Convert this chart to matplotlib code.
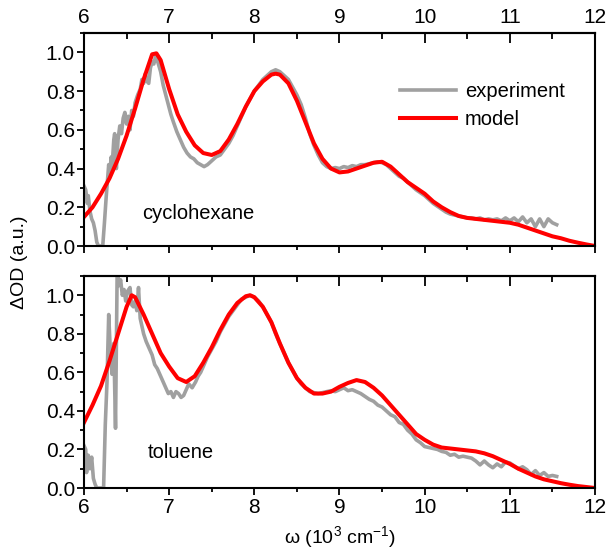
import numpy as np
import matplotlib
matplotlib.use("Agg")
import matplotlib.pyplot as plt
from matplotlib.ticker import FixedLocator

plt.rcParams['font.family'] = ['Liberation Sans', 'DejaVu Sans']
plt.rcParams['mathtext.fontset'] = 'custom'
plt.rcParams['mathtext.rm'] = 'Liberation Sans'
plt.rcParams['mathtext.it'] = 'Liberation Sans:italic'

# cyclohexane, model (smooth)
cyc_model_w = [6.0, 6.1, 6.2, 6.3, 6.4, 6.5, 6.6, 6.7, 6.8, 6.85, 6.9, 7.0, 7.1, 7.2,
               7.3, 7.4, 7.5, 7.6, 7.7, 7.8, 7.9, 8.0, 8.1, 8.2, 8.25, 8.3, 8.4, 8.5,
               8.6, 8.7, 8.8, 8.9, 9.0, 9.1, 9.2, 9.3, 9.4, 9.5, 9.6, 9.7, 9.8, 9.9,
               10.0, 10.1, 10.2, 10.3, 10.4, 10.5, 10.6, 10.7, 10.8, 10.9, 11.0, 11.1,
               11.2, 11.3, 11.4, 11.5, 11.6, 11.7, 11.8, 11.9, 12.0]
cyc_model = [0.15, 0.20, 0.27, 0.35, 0.45, 0.57, 0.71, 0.86, 0.99, 0.995, 0.96, 0.81, 0.68, 0.59,
             0.52, 0.48, 0.47, 0.49, 0.55, 0.63, 0.72, 0.80, 0.85, 0.885, 0.89, 0.885, 0.84, 0.75,
             0.64, 0.53, 0.45, 0.40, 0.38, 0.385, 0.40, 0.415, 0.43, 0.435, 0.41, 0.37, 0.33, 0.30,
             0.27, 0.23, 0.20, 0.175, 0.155, 0.145, 0.14, 0.135, 0.13, 0.125, 0.12, 0.11,
             0.095, 0.08, 0.065, 0.05, 0.04, 0.027, 0.017, 0.008, 0.0]

# cyclohexane, experiment
cyc_exp_w = [6.00, 6.02, 6.04, 6.05, 6.07, 6.09, 6.11, 6.13, 6.15, 6.17, 6.20, 6.22, 6.24, 6.26,
             6.28, 6.29, 6.30, 6.32, 6.33, 6.35, 6.36, 6.38, 6.40, 6.42, 6.44, 6.46, 6.48, 6.50,
             6.52, 6.54, 6.56, 6.58, 6.60, 6.63, 6.66, 6.68, 6.70, 6.72, 6.74, 6.76, 6.78, 6.80,
             6.82, 6.84, 6.86, 6.88, 6.90, 6.93, 6.96, 6.99, 7.02, 7.05, 7.09, 7.13, 7.17, 7.21,
             7.25, 7.29, 7.33, 7.37, 7.41, 7.45, 7.50, 7.55, 7.60, 7.65, 7.70, 7.75, 7.80, 7.85,
             7.90, 7.95, 8.00, 8.05, 8.10, 8.15, 8.20, 8.25, 8.30, 8.35, 8.40, 8.45, 8.50, 8.55,
             8.60, 8.65, 8.70, 8.75, 8.80, 8.85, 8.90, 8.95, 9.00, 9.05, 9.10, 9.15, 9.20, 9.25,
             9.30, 9.35, 9.40, 9.45, 9.50, 9.55, 9.60, 9.65, 9.70, 9.75, 9.80, 9.85, 9.90, 9.95,
             10.00, 10.05, 10.10, 10.15, 10.20, 10.25, 10.30, 10.35, 10.40, 10.45, 10.50, 10.55,
             10.60, 10.65, 10.70, 10.75, 10.80, 10.85, 10.90, 10.95, 11.00, 11.05, 11.10, 11.15,
             11.20, 11.25, 11.30, 11.35, 11.40, 11.45, 11.50, 11.55]
cyc_exp = [0.31, 0.29, 0.22, 0.26, 0.18, 0.14, 0.12, 0.08, 0.02, 0.0, 0.0, 0.0, 0.12, 0.25,
           0.36, 0.42, 0.37, 0.46, 0.41, 0.55, 0.58, 0.40, 0.55, 0.62, 0.58, 0.66, 0.69, 0.63,
           0.67, 0.60, 0.70, 0.67, 0.74, 0.78, 0.81, 0.86, 0.84, 0.89, 0.85, 0.84, 0.92, 0.95,
           0.94, 0.98, 0.96, 0.93, 0.90, 0.83, 0.78, 0.73, 0.68, 0.64, 0.59, 0.55, 0.51, 0.48,
           0.46, 0.45, 0.43, 0.42, 0.41, 0.42, 0.44, 0.46, 0.47, 0.50, 0.53, 0.57, 0.62, 0.67,
           0.72, 0.76, 0.80, 0.83, 0.86, 0.88, 0.90, 0.91, 0.90, 0.88, 0.86, 0.82, 0.78, 0.73,
           0.66, 0.58, 0.52, 0.47, 0.43, 0.41, 0.40, 0.405, 0.40, 0.41, 0.405, 0.415, 0.41, 0.42,
           0.42, 0.425, 0.43, 0.435, 0.43, 0.42, 0.40, 0.38, 0.36, 0.35, 0.33, 0.31, 0.29, 0.275,
           0.26, 0.24, 0.22, 0.205, 0.19, 0.175, 0.165, 0.16, 0.155, 0.15, 0.145, 0.145,
           0.14, 0.145, 0.135, 0.14, 0.135, 0.14, 0.13, 0.145, 0.13, 0.145, 0.125, 0.15,
           0.12, 0.14, 0.10, 0.14, 0.10, 0.14, 0.12, 0.11]

# toluene, model (smooth)
tol_model_w = [6.0, 6.1, 6.2, 6.3, 6.4, 6.5, 6.56, 6.6, 6.7, 6.8, 6.9, 7.0, 7.1, 7.2, 7.3,
               7.4, 7.5, 7.6, 7.7, 7.8, 7.9, 7.95, 8.0, 8.1, 8.2, 8.3, 8.4, 8.5, 8.6, 8.7,
               8.8, 8.9, 9.0, 9.1, 9.2, 9.3, 9.4, 9.5, 9.6, 9.7, 9.8, 9.9, 10.0, 10.1, 10.2,
               10.3, 10.4, 10.5, 10.6, 10.7, 10.8, 10.9, 11.0, 11.1, 11.2, 11.3, 11.4, 11.5,
               11.6, 11.7, 11.8, 11.9, 12.0]
tol_model = [0.34, 0.43, 0.53, 0.66, 0.80, 0.94, 1.00, 0.99, 0.90, 0.80, 0.70, 0.63, 0.57, 0.55, 0.58,
             0.65, 0.73, 0.82, 0.90, 0.96, 0.995, 1.00, 0.99, 0.94, 0.86, 0.75, 0.65, 0.57, 0.52, 0.49,
             0.49, 0.50, 0.525, 0.545, 0.56, 0.55, 0.52, 0.48, 0.43, 0.38, 0.33, 0.28, 0.25, 0.225, 0.21,
             0.205, 0.20, 0.195, 0.19, 0.18, 0.165, 0.145, 0.125, 0.10, 0.08, 0.06, 0.045, 0.035,
             0.025, 0.017, 0.01, 0.005, 0.0]

# toluene, experiment
tol_exp_w = [6.00, 6.02, 6.03, 6.05, 6.07, 6.09, 6.11, 6.13, 6.15, 6.20, 6.23, 6.25, 6.27, 6.29,
             6.31, 6.33, 6.35, 6.37, 6.39, 6.41, 6.43, 6.45, 6.47, 6.49, 6.51, 6.54, 6.56, 6.58,
             6.60, 6.62, 6.64, 6.66, 6.68, 6.70, 6.73, 6.76, 6.80, 6.83, 6.86, 6.90, 6.93, 6.96,
             6.99, 7.02, 7.05, 7.08, 7.11, 7.14, 7.17, 7.20, 7.23, 7.27, 7.31, 7.34, 7.37, 7.41,
             7.45, 7.50, 7.55, 7.60, 7.65, 7.70, 7.75, 7.80, 7.85, 7.90, 7.95, 8.00, 8.05, 8.10,
             8.15, 8.20, 8.25, 8.30, 8.35, 8.40, 8.45, 8.50, 8.55, 8.60, 8.65, 8.70, 8.75, 8.80,
             8.85, 8.90, 8.95, 9.00, 9.05, 9.10, 9.15, 9.20, 9.25, 9.30, 9.35, 9.40, 9.45, 9.50,
             9.55, 9.60, 9.65, 9.70, 9.75, 9.80, 9.85, 9.90, 9.95, 10.00, 10.05, 10.10, 10.15,
             10.20, 10.25, 10.30, 10.35, 10.40, 10.45, 10.50, 10.55, 10.60, 10.65, 10.70, 10.75,
             10.80, 10.85, 10.90, 10.95, 11.00, 11.05, 11.10, 11.15, 11.20, 11.25, 11.30, 11.35,
             11.40, 11.45, 11.50, 11.55]
tol_exp = [0.22, 0.20, 0.08, 0.17, 0.10, 0.16, 0.05, 0.02, 0.0, 0.0, 0.0, 0.33, 0.55, 0.90,
           0.70, 0.59, 0.75, 0.31, 1.15, 1.05, 1.08, 1.00, 1.03, 0.97, 1.02, 1.04, 0.95, 0.94,
           0.97, 0.92, 1.04, 0.88, 0.84, 0.80, 0.76, 0.73, 0.69, 0.64, 0.62, 0.58, 0.55, 0.52,
           0.49, 0.50, 0.47, 0.50, 0.49, 0.47, 0.48, 0.51, 0.54, 0.52, 0.55, 0.58, 0.60, 0.64,
           0.68, 0.72, 0.76, 0.81, 0.85, 0.89, 0.92, 0.95, 0.98, 0.99, 1.00, 0.99, 0.97, 0.94,
           0.90, 0.86, 0.80, 0.75, 0.70, 0.65, 0.61, 0.57, 0.54, 0.52, 0.50, 0.495, 0.49, 0.495,
           0.50, 0.505, 0.50, 0.51, 0.52, 0.505, 0.51, 0.50, 0.49, 0.475, 0.46, 0.45, 0.43, 0.42,
           0.40, 0.38, 0.37, 0.34, 0.33, 0.30, 0.28, 0.25, 0.235, 0.215, 0.21, 0.205, 0.20,
           0.19, 0.185, 0.17, 0.175, 0.16, 0.165, 0.16, 0.155, 0.14, 0.12, 0.14, 0.12,
           0.105, 0.125, 0.11, 0.135, 0.13, 0.115, 0.10, 0.11, 0.095, 0.07, 0.09, 0.065,
           0.08, 0.06, 0.065, 0.06]

x_major = [6, 7, 8, 9, 10, 11, 12]
x_minor = [6.5, 7.5, 8.5, 9.5, 10.5, 11.5]
y_major = [0.0, 0.2, 0.4, 0.6, 0.8, 1.0]
y_minor = [0.1, 0.3, 0.5, 0.7, 0.9, 1.1]

GRAY = '#a0a0a0'
RED = '#ff0000'

fig = plt.figure(figsize=(6.09, 5.49), dpi=100)
ax1 = fig.add_axes([84/609, 1-246/549, 511/609, 213/549])
ax2 = fig.add_axes([84/609, 1-488/549, 511/609, 212/549])


def style(ax, labels_top):
    ax.set_xlim(6, 12)
    ax.set_ylim(0, 1.1)
    ax.xaxis.set_major_locator(FixedLocator(x_major))
    ax.xaxis.set_minor_locator(FixedLocator(x_minor))
    ax.yaxis.set_major_locator(FixedLocator(y_major))
    ax.yaxis.set_minor_locator(FixedLocator(y_minor))
    ax.yaxis.set_major_formatter(lambda v, p: f"{v:.1f}")
    for s in ax.spines.values():
        s.set_linewidth(1.5)
    ax.tick_params(axis='both', which='both', direction='out', width=1.3,
                   labelsize=15, right=False, top=False)
    ax.tick_params(which='major', length=5)
    ax.tick_params(which='minor', length=3)
    ax.tick_params(axis='y', pad=1.5)
    ax.tick_params(axis='x', labelbottom=not labels_top, pad=2)
    # inward ticks along the top edge
    sec = ax.secondary_xaxis('top')
    sec.xaxis.set_major_locator(FixedLocator(x_major))
    sec.xaxis.set_minor_locator(FixedLocator(x_minor))
    sec.spines['top'].set_linewidth(1.5)
    sec.tick_params(which='both', direction='in', width=1.3, labelsize=15,
                    labeltop=labels_top, pad=4)
    sec.tick_params(which='major', length=7)
    sec.tick_params(which='minor', length=4)


style(ax1, True)
style(ax2, False)

ax1.plot(cyc_exp_w, cyc_exp, color=GRAY, lw=2.6, solid_joinstyle='round', label='experiment')
ax1.plot(cyc_model_w, cyc_model, color=RED, lw=2.9, solid_joinstyle='round', label='model')
ax2.plot(tol_exp_w, tol_exp, color=GRAY, lw=2.6, solid_joinstyle='round')
ax2.plot(tol_model_w, tol_model, color=RED, lw=2.9, solid_joinstyle='round')

ax1.text(6.68, 0.167, 'cyclohexane', fontsize=14.5, va='center', ha='left')
ax2.text(6.75, 0.184, 'toluene', fontsize=14.5, va='center', ha='left')

ax1.legend(loc='upper left', bbox_to_anchor=(0.619, 0.77), frameon=False, fontsize=14.5,
           handlelength=2.75, handletextpad=0.45, labelspacing=0.45, borderpad=0,
           borderaxespad=0)

fig.text(20/609, 1-262/549, 'ΔOD (a.u.)', rotation=90, fontsize=14, ha='center', va='center')
fig.text(340/609, 1-537/549, 'ω (10$^{3}$ cm$^{-1}$)', fontsize=14, ha='center', va='center')

fig.savefig('out.png', dpi=100)
